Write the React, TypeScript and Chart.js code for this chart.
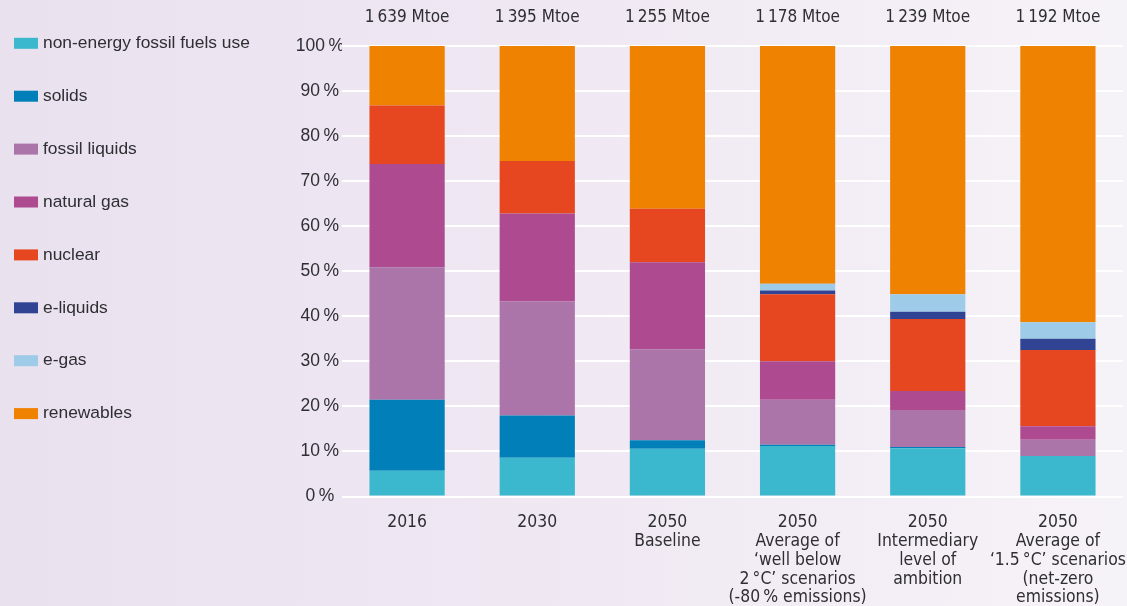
import React, { useEffect, useRef } from "react";
import { Chart, registerables } from "chart.js";

Chart.register(...registerables);

const categories: string[][] = [
  ["2016"],
  ["2030"],
  ["2050", "Baseline"],
  ["2050", "Average of", "\u2018well below", "2\u2009\u00B0C\u2019 scenarios", "(-80\u2009% emissions)"],
  ["2050", "Intermediary", "level of", "ambition"],
  ["2050", "Average of", "\u20181.5\u2009\u00B0C\u2019 scenarios", "(net-zero", "emissions)"],
];

const totals: string[] = [
  "1\u2009639 Mtoe",
  "1\u2009395 Mtoe",
  "1\u2009255 Mtoe",
  "1\u2009178 Mtoe",
  "1\u2009239 Mtoe",
  "1\u2009192 Mtoe",
];

const nonEnergy = [5.7, 8.6, 10.6, 11.2, 10.7, 9.0];
const solids = [15.8, 9.4, 1.9, 0.3, 0.3, 0.0];
const fossilLiquids = [29.4, 25.3, 20.2, 10.0, 8.2, 3.6];
const naturalGas = [22.9, 19.5, 19.3, 8.5, 4.2, 3.0];
const nuclear = [13.0, 11.7, 11.9, 14.9, 16.0, 16.9];
const eLiquids = [0.0, 0.0, 0.0, 0.8, 1.6, 2.5];
const eGas = [0.0, 0.0, 0.0, 1.5, 3.9, 3.7];
const renewables = [13.2, 25.5, 36.1, 52.8, 55.1, 61.3];

const yTicks = [0, 10, 20, 30, 40, 50, 60, 70, 80, 90, 100];

const seriesNames = [
  "non-energy fossil fuels use",
  "solids",
  "fossil liquids",
  "natural gas",
  "nuclear",
  "e-liquids",
  "e-gas",
  "renewables",
];
const seriesColors = [
  "#3bb8cd",
  "#007fb8",
  "#ab75aa",
  "#ae4a8f",
  "#e64620",
  "#314493",
  "#9ecbe8",
  "#ef8200",
];
const seriesValues = [nonEnergy, solids, fossilLiquids, naturalGas, nuclear, eLiquids, eGas, renewables];

const TEXT = "#2e2e33";
const NARROW = "'DejaVu Sans Condensed', 'Liberation Sans Narrow', 'Roboto', sans-serif";
const REGULAR = "'Liberation Sans', Arial, sans-serif";

const extrasPlugin = {
  id: "extras",
  afterDraw(chart: any) {
    const ctx = chart.ctx;
    const xs = chart.scales.x;
    ctx.save();
    // totals above bars
    ctx.fillStyle = TEXT;
    ctx.font = `17px ${NARROW}`;
    ctx.textAlign = "center";
    ctx.textBaseline = "middle";
    totals.forEach((t, i) => {
      ctx.fillText(t, xs.getPixelForValue(i), 17.5);
    });
    // legend
    ctx.font = `17.4px ${REGULAR}`;
    ctx.textAlign = "left";
    chart.data.datasets.forEach((ds: any, i: number) => {
      const cy = 43.3 + i * 52.9;
      ctx.fillStyle = ds.backgroundColor;
      ctx.fillRect(14, cy - 5.5, 24, 11);
      ctx.fillStyle = TEXT;
      ctx.fillText(ds.label, 43, cy);
    });
    ctx.restore();
  },
};

export default function App() {
  const ref = useRef<HTMLCanvasElement | null>(null);

  useEffect(() => {
    document.body.style.margin = "0";
    if (!ref.current) return;
    const chart = new Chart(ref.current, {
      type: "bar",
      data: {
        labels: categories,
        datasets: seriesNames.map((name, i) => ({
          label: name,
          data: seriesValues[i],
          backgroundColor: seriesColors[i],
          borderWidth: 0,
          barPercentage: 0.578,
          categoryPercentage: 1,
        })),
      },
      options: {
        animation: false,
        responsive: false,
        maintainAspectRatio: false,
        layout: { padding: { left: 282, right: 4, top: 46, bottom: 0 } },
        plugins: {
          legend: { display: false },
          tooltip: { enabled: false },
        },
        scales: {
          x: {
            stacked: true,
            grid: { display: false, drawTicks: false },
            border: { display: false },
            afterFit: (s: any) => {
              s.height = 109.5;
              s.paddingLeft = 0;
              s.paddingRight = 0;
            },
            ticks: {
              color: TEXT,
              font: { family: NARROW, size: 17.4, lineHeight: 1.078 },
              padding: 17,
              maxRotation: 0,
              autoSkip: false,
            },
          },
          y: {
            stacked: true,
            min: 0,
            max: 100,
            afterFit: (s: any) => {
              s.width = 60;
            },
            afterBuildTicks: (s: any) => {
              s.ticks = yTicks.map((v) => ({ value: v }));
            },
            grid: { color: "#ffffff", lineWidth: 2, drawTicks: false },
            border: { display: false },
            ticks: {
              color: TEXT,
              font: { family: REGULAR, size: 17.5 },
              padding: -2,
              crossAlign: "center",
              callback: (v: any) => `${v}\u2009%`,
            },
          },
        },
      },
      plugins: [extrasPlugin],
    });
    return () => chart.destroy();
  }, []);

  return (
    <div
      style={{
        position: "fixed",
        left: 0,
        top: 0,
        width: 1127,
        height: 606,
        background: "linear-gradient(to right, #e9e1ee 0%, #efe7f2 45%, #f6f3f8 100%)",
      }}
    >
      <canvas ref={ref} width={1127} height={606} style={{ display: "block" }} />
    </div>
  );
}
